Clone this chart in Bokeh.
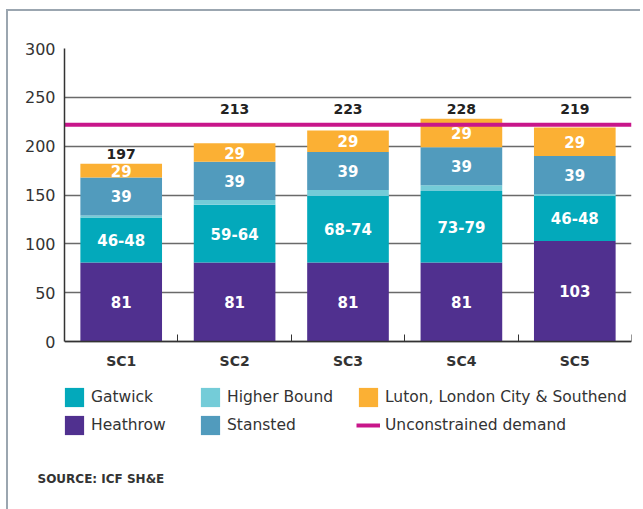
from bokeh.plotting import figure
from bokeh.models import ColumnDataSource, Range1d, FixedTicker, Legend, LegendItem, Title
from bokeh.core.properties import value
from bokeh.embed import file_html
from bokeh.resources import INLINE

# ---------------- data ----------------
categories = ["SC1", "SC2", "SC3", "SC4", "SC5"]
heathrow = [81, 81, 81, 81, 103]
gatwick = [46, 59, 68, 73, 46]            # lower bound
higher_bound = [2, 5, 6, 6, 2]            # extra up to higher bound
stansted = [39, 39, 39, 39, 39]
luton = [29, 29, 29, 29, 29]              # labelled value
luton_drawn = [14, 19, 22, 29, 29]        # segment height as drawn in the picture
totals = [197, 213, 223, 228, 219]
unconstrained_demand = 222
y_ticks = [0, 50, 100, 150, 200, 250, 300]

# layout only: vertical position of the total labels
total_label_y = [192, 238, 238, 238, 238]

FONT = "DejaVu Sans"
C_HEATHROW = "#50308f"
C_GATWICK = "#03a9bb"
C_HIGHER = "#74ccd8"
C_STANSTED = "#519bbd"
C_LUTON = "#fbb034"
C_DEMAND = "#c8168a"
TEXT = "#333333"
FRAME = "#9ba6b0"

n = len(categories)
xs = [i + 0.5 for i in range(n)]

# geometry: frame spans y 48..447 px, value 300 at 48 px and 0 at 341 px
W, H = 640, 509
TOP, ZERO, BOTTOM = 48, 341, 447
scale = (ZERO - TOP) / y_ticks[-1]
y_start = -(BOTTOM - ZERO) / scale

src = ColumnDataSource(dict(
    x=xs, heathrow=heathrow, gatwick=gatwick, higher=higher_bound,
    stansted=stansted, luton=luton_drawn,
))

p = figure(width=W, height=H, output_backend="svg", toolbar_location=None,
           x_range=Range1d(0, n), y_range=Range1d(y_start, y_ticks[-1]),
           min_border_left=64, min_border_right=9, min_border_top=TOP,
           min_border_bottom=H - BOTTOM,
           styles={"box-shadow": f"inset 6px 0 0 0 #ffffff, inset 0 9px 0 0 #ffffff, "
                                 f"inset 8px 0 0 0 {FRAME}, inset 0 11px 0 0 {FRAME}"})
p.border_fill_color = None
p.outline_line_color = None

stackers = ["heathrow", "gatwick", "higher", "stansted", "luton"]
rs = p.vbar_stack(stackers, x="x", width=0.72, source=src,
                  fill_color=[C_HEATHROW, C_GATWICK, C_HIGHER, C_STANSTED, C_LUTON],
                  line_color=None)

line_r = p.line(x=[0, n], y=[unconstrained_demand, unconstrained_demand],
                line_color=C_DEMAND, line_width=4)

# segment labels (white)
lx, ly, lt = [], [], []
for i in range(n):
    h = heathrow[i]
    g_lo = gatwick[i]
    g_hi = gatwick[i] + higher_bound[i]
    base_s = h + g_hi
    base_l = base_s + stansted[i]
    lx += [xs[i]] * 4
    ly += [h / 2, h + g_lo / 2, base_s + stansted[i] / 2, base_l + luton_drawn[i] / 2]
    lt += [str(h), f"{g_lo}-{g_hi}", str(stansted[i]), str(luton[i])]
p.text(x=lx, y=ly, text=lt, text_color="white", text_font=value(FONT),
       text_font_style="bold", text_font_size="15px",
       text_align="center", text_baseline="middle")

# totals
p.text(x=xs, y=total_label_y, text=[str(t) for t in totals], text_color="#222222",
       text_font=value(FONT), text_font_style="bold", text_font_size="14px",
       text_align="center", text_baseline="middle")

# axes
p.xaxis.fixed_location = 0
p.xaxis.ticker = FixedTicker(ticks=xs, minor_ticks=list(range(1, n + 1)))
p.xaxis.major_label_overrides = {xv: c for xv, c in zip(xs, categories)}
p.xaxis.major_tick_in = 0
p.xaxis.major_tick_out = 0
p.xaxis.minor_tick_in = 7
p.xaxis.minor_tick_out = 0
p.xaxis.minor_tick_line_color = TEXT
p.xaxis.axis_line_color = TEXT
p.xaxis.axis_line_width = 1.5
p.xaxis.major_label_text_font = FONT
p.xaxis.major_label_text_font_style = "bold"
p.xaxis.major_label_text_font_size = "14px"
p.xaxis.major_label_text_color = TEXT
p.xaxis.major_label_standoff = 11

p.yaxis.bounds = (y_ticks[0], y_ticks[-1])
p.yaxis.ticker = FixedTicker(ticks=y_ticks)
p.yaxis.major_tick_in = 0
p.yaxis.major_tick_out = 0
p.yaxis.minor_tick_line_color = None
p.yaxis.axis_line_color = TEXT
p.yaxis.axis_line_width = 1.5
p.yaxis.major_label_text_font = FONT
p.yaxis.major_label_text_font_size = "16px"
p.yaxis.major_label_text_color = TEXT
p.yaxis.major_label_standoff = 9

p.xgrid.visible = False
p.ygrid.ticker = FixedTicker(ticks=y_ticks)
p.ygrid.grid_line_color = "#6a6a6a"
p.ygrid.grid_line_width = 1.5

# legends (three columns), placed inside the lower part of the frame
LEG_Y = 10


def add_legend(items, xloc):
    lg = Legend(items=items, location=(xloc, LEG_Y), orientation="vertical",
                margin=0, padding=0, spacing=4,
                glyph_width=24, glyph_height=24, label_height=24,
                label_standoff=5, border_line_color=None, background_fill_alpha=0,
                label_text_font=FONT, label_text_font_size="15.5px",
                label_text_color=TEXT)
    p.add_layout(lg)


add_legend([LegendItem(label="Gatwick", renderers=[rs[1]]),
            LegendItem(label="Heathrow", renderers=[rs[0]])], -2)
add_legend([LegendItem(label="Higher Bound", renderers=[rs[2]]),
            LegendItem(label="Stansted", renderers=[rs[3]])], 134)
add_legend([LegendItem(label="Luton, London City & Southend", renderers=[rs[4]]),
            LegendItem(label="Unconstrained demand", renderers=[line_r])], 292)

src_title = Title(text="SOURCE: ICF SH&E", align="left", offset=-27, standoff=44,
                  text_font=FONT, text_font_style="bold", text_font_size="12px",
                  text_color=TEXT)
p.add_layout(src_title, "below")

open("out.html", "w").write(file_html(p, INLINE))
